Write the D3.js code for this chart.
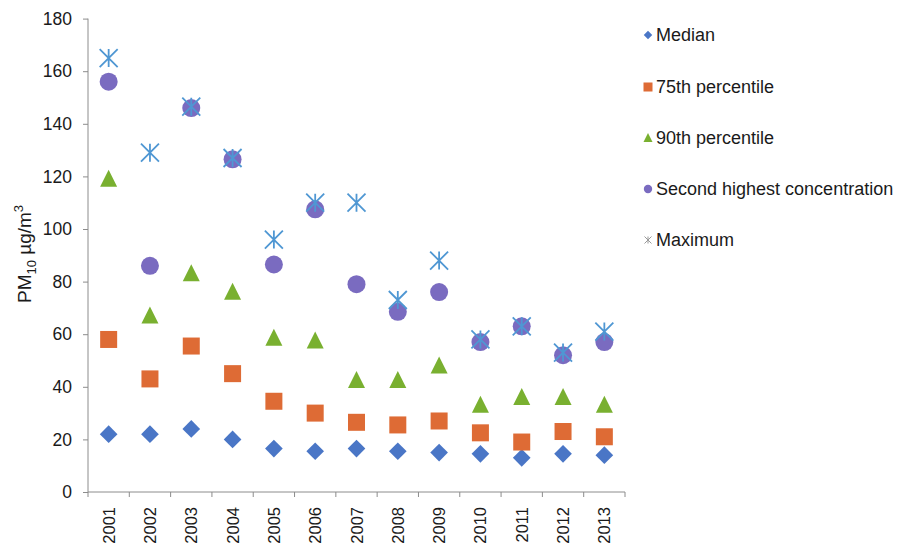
<!DOCTYPE html>
<html><head><meta charset="utf-8">
<script src="https://cdn.jsdelivr.net/npm/d3@7"></script>
<style>body{margin:0;background:#fff;} text{font-family:"Liberation Sans",Arial,sans-serif;fill:#1a1a1a;}</style>
</head><body>
<svg id="c" width="904" height="550"></svg>
<script>
const years = ["2001","2002","2003","2004","2005","2006","2007","2008","2009","2010","2011","2012","2013"];
const median = [22,22,24,20,16.5,15.5,16.5,15.5,15,14.5,13,14.5,14];
const p75 = [58,43,55.5,45,34.5,30,26.5,25.5,27,22.5,19,23,21];
const p90 = [119,67,83,76,58.5,57.5,42.5,42.5,48,33,36,36,33];
const second = [156,86,146,126.5,86.5,107.5,79,68.5,76,57,63,52,57];
const maximum = [165,129,146.5,127,96,110,110,73,88,58,63,53,61];
const yTicks = [0,20,40,60,80,100,120,140,160,180];

const svg = d3.select("#c");
const x = d3.scaleBand().domain(years).range([88,625]);
const y = d3.scaleLinear().domain([0,180]).range([492,18.6]);

// axes
const yAxis = d3.axisLeft(y).tickValues(yTicks).tickSize(5).tickPadding(11);
const gy = svg.append("g").attr("transform","translate(88,0)").call(yAxis);
gy.select(".domain").attr("stroke","#8c8c8c").attr("d","M0,"+y(180)+"V"+y(0));
gy.selectAll(".tick line").attr("stroke","#8c8c8c");
gy.selectAll(".tick text").style("font-size","17.5px").attr("fill","#1a1a1a");

const gx = svg.append("g").attr("transform","translate(0,492)");
gx.append("line").attr("x1",88).attr("x2",625).attr("stroke","#8c8c8c");
const bounds = years.map(d=>x(d)).concat([x.range()[1]]);
gx.selectAll("line.t").data(bounds).enter().append("line").attr("class","t")
  .attr("x1",d=>d).attr("x2",d=>d).attr("y1",0).attr("y2",5).attr("stroke","#8c8c8c");
gx.selectAll("text").data(years).enter().append("text")
  .attr("transform",d=>`translate(${x(d)+x.bandwidth()/2+6},${15}) rotate(-90)`)
  .attr("text-anchor","end").style("font-size","16.5px").text(d=>d);

// y label
const yl = svg.append("text").attr("transform","translate(31,254) rotate(-90)")
  .attr("text-anchor","middle").style("font-size","19px");
yl.append("tspan").text("PM");
yl.append("tspan").attr("dy",5).style("font-size","13px").text("10");
yl.append("tspan").attr("dy",-5).text(" µg/m");
yl.append("tspan").attr("dy",-8).style("font-size","13px").text("3");

const cx = i => x(years[i]) + x.bandwidth()/2;
const colors = {median:"#4a76c6", p75:"#de6b35", p90:"#79b030", second:"#7a6bc0", max:"#4f97d3"};

function diamond(g, px, py, s, c){ g.append("path").attr("d",d3.symbol(d3.symbolSquare, s*s)()).attr("transform",`translate(${px},${py}) rotate(45)`).attr("fill",c); }
function square(g, px, py, s, c){ g.append("rect").attr("x",px-s/2).attr("y",py-s/2).attr("width",s).attr("height",s).attr("fill",c); }
function tri(g, px, py, s, c){ g.append("path").attr("d",`M${px},${py-s*0.55}L${px+s/2},${py+s*0.45}L${px-s/2},${py+s*0.45}Z`).attr("fill",c); }
function circ(g, px, py, r, c){ g.append("circle").attr("cx",px).attr("cy",py).attr("r",r).attr("fill",c); }
function star(g, px, py, s, c, w){ const h=s/2; g.append("path").attr("d",`M${px-h},${py-h}L${px+h},${py+h}M${px+h},${py-h}L${px-h},${py+h}M${px},${py-h}V${py+h}`).attr("stroke",c).attr("stroke-width",w).attr("fill","none"); }

const pts = svg.append("g");
median.forEach((v,i)=>diamond(pts,cx(i),y(v),12.5,colors.median));
p75.forEach((v,i)=>square(pts,cx(i),y(v),17,colors.p75));
p90.forEach((v,i)=>tri(pts,cx(i),y(v),17,colors.p90));
second.forEach((v,i)=>circ(pts,cx(i),y(v),9,colors.second));
maximum.forEach((v,i)=>star(pts,cx(i),y(v),18,colors.max,1.8));

// legend
const names = ["Median","75th percentile","90th percentile","Second highest concentration","Maximum"];
const lg = svg.append("g");
const ly = [35,87,138,189,240];
names.forEach((n,i)=>{
  const mx=648, my=ly[i];
  if(i===0) diamond(lg,mx,my,6,colors.median);
  if(i===1) square(lg,mx,my,9,colors.p75);
  if(i===2) tri(lg,mx,my,9,colors.p90);
  if(i===3) circ(lg,mx,my,4.2,colors.second);
  if(i===4) star(lg,mx,my,7,"#999",1);
  lg.append("text").attr("x",656).attr("y",my).attr("dy","0.35em").style("font-size","18px").text(n);
});
</script>
</body></html>
